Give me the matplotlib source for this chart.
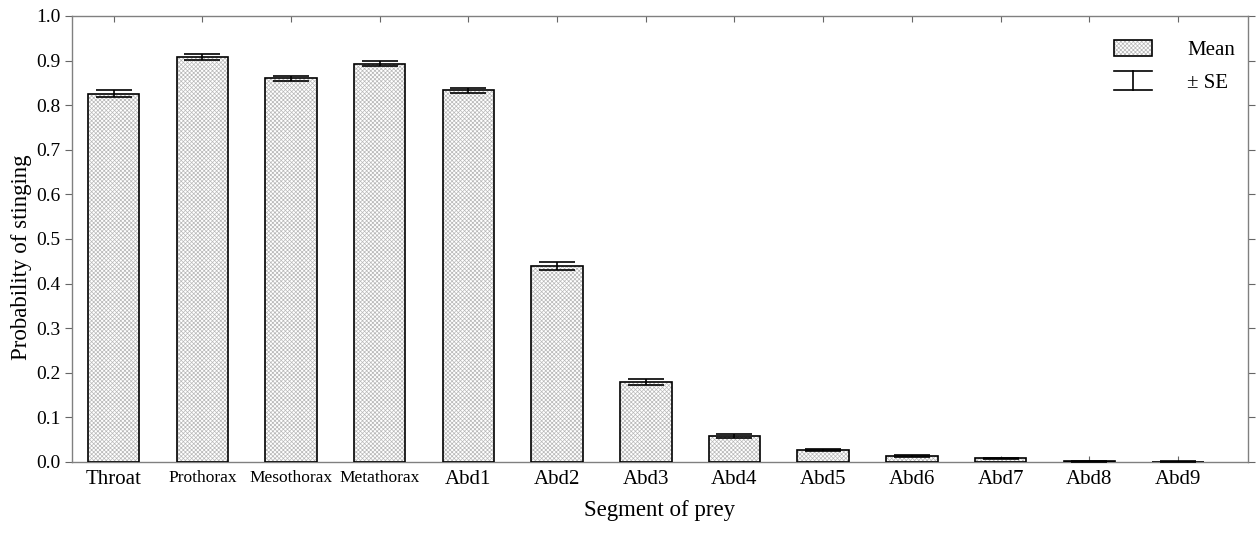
import matplotlib
matplotlib.use("Agg")
import matplotlib.pyplot as plt
from matplotlib.legend_handler import HandlerBase, HandlerTuple
from matplotlib.lines import Line2D
from matplotlib.patches import Rectangle

plt.rcParams['font.family'] = ['Liberation Serif', 'DejaVu Serif']
plt.rcParams['hatch.linewidth'] = 0.5

categories = ['Throat', 'Prothorax', 'Mesothorax', 'Metathorax', 'Abd1', 'Abd2',
              'Abd3', 'Abd4', 'Abd5', 'Abd6', 'Abd7', 'Abd8', 'Abd9']
means = [0.826, 0.908, 0.860, 0.893, 0.833, 0.440, 0.179, 0.058, 0.026, 0.014, 0.008, 0.002, 0.001]
se = [0.007, 0.006, 0.006, 0.006, 0.006, 0.009, 0.006, 0.004, 0.002, 0.002, 0.002, 0.001, 0.001]
yticks = [0.0, 0.1, 0.2, 0.3, 0.4, 0.5, 0.6, 0.7, 0.8, 0.9, 1.0]
small_labels = ['Prothorax', 'Mesothorax', 'Metathorax']

HATCH_COL = '#b8b8b8'

fig = plt.figure(figsize=(12.6, 5.49), dpi=100)
ax = fig.add_axes([0.0571, 0.1585, 0.9334, 0.8124])

x = list(range(len(categories)))
width = 0.58
ax.bar(x, means, width=width, color='white', edgecolor=HATCH_COL,
       linewidth=0, hatch='xxxxxxxx', zorder=2)
ax.bar(x, means, width=width, fill=False, edgecolor='black',
       linewidth=1.2, zorder=3)
ax.errorbar(x, means, yerr=se, fmt='none', ecolor='black', elinewidth=1.2,
            capsize=13, capthick=1.2, zorder=4)

ax.set_xlim(-0.47, 12.79)
ax.set_ylim(0, 1.0)
ax.set_yticks(yticks)
ax.set_yticklabels([f'{v:.1f}' for v in yticks], fontsize=14)
ax.set_xticks(x)
ax.set_xticklabels(categories)
for lab in ax.get_xticklabels():
    if lab.get_text() in small_labels:
        lab.set_fontsize(12.5)
    else:
        lab.set_fontsize(15)

ax.tick_params(axis='y', which='both', left=True, right=True, direction='in', length=5, width=0.8, color='#666666')
ax.tick_params(axis='y', which='both', left=True, direction='out')
ax.tick_params(axis='x', which='both', bottom=True, top=True, direction='in', length=4, width=0.8, color='#666666')
ax.tick_params(axis='x', pad=6)
ax.tick_params(axis='y', pad=3)
for s in ax.spines.values():
    s.set_color('#808080')
    s.set_linewidth(1.0)

ax.set_xlabel('Segment of prey', fontsize=16.5, labelpad=7.5)
ax.set_ylabel('Probability of stinging', fontsize=16.5, labelpad=2.5)
ax.yaxis.set_label_coords(-0.034, 0.46)


class ErrHandler(HandlerBase):
    def create_artists(self, legend, orig_handle, xdescent, ydescent, width, height, fontsize, trans):
        cx = -xdescent + width / 2
        top = -ydescent + height * 1.1
        bot = -ydescent - height * 0.1
        l1 = Line2D([-xdescent, -xdescent + width], [top, top], color='black', lw=1.2, transform=trans)
        l2 = Line2D([-xdescent, -xdescent + width], [bot, bot], color='black', lw=1.2, transform=trans)
        l3 = Line2D([cx, cx], [bot, top], color='black', lw=1.2, transform=trans)
        return [l1, l2, l3]


p_hatch = Rectangle((0, 0), 1, 1, facecolor='white', edgecolor=HATCH_COL, linewidth=0, hatch='xxxxxxxx')
p_edge = Rectangle((0, 0), 1, 1, fill=False, edgecolor='black', linewidth=1.2)
err_handle = Line2D([], [])
ax.legend([(p_hatch, p_edge), err_handle], ['Mean', '\u00b1 SE'],
          handler_map={tuple: HandlerTuple(ndivide=1, pad=0), Line2D: ErrHandler()},
          loc='upper right', bbox_to_anchor=(1.005, 0.988), frameon=False, fontsize=15,
          handlelength=1.83, handleheight=0.77, handletextpad=1.68, labelspacing=0.6,
          borderpad=0.4)

fig.savefig('out.png', dpi=100)
